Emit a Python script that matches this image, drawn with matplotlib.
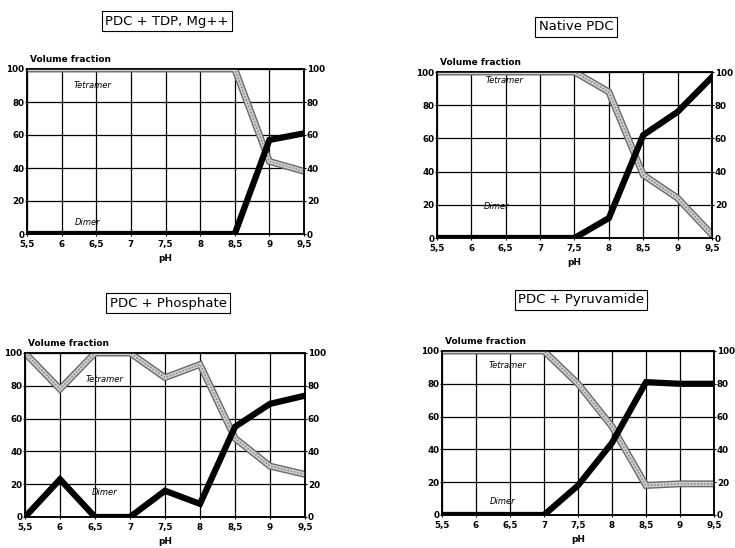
import matplotlib.pyplot as plt
import matplotlib.patheffects as pe

ph = [5.5, 6, 6.5, 7, 7.5, 8, 8.5, 9, 9.5]
ph_labels = ['5,5', '6', '6,5', '7', '7,5', '8', '8,5', '9', '9,5']

titles = ['PDC + TDP, Mg++', 'Native PDC', 'PDC + Phosphate', 'PDC + Pyruvamide']

tetramer_tdp = [100, 100, 100, 100, 100, 100, 100, 44, 38]
dimer_tdp = [0, 0, 0, 0, 0, 0, 0, 57, 61]

tetramer_native = [100, 100, 100, 100, 100, 88, 38, 24, 2]
dimer_native = [0, 0, 0, 0, 0, 12, 62, 76, 97]

tetramer_phos = [100, 78, 100, 100, 85, 93, 48, 31, 26]
dimer_phos = [0, 23, 0, 0, 16, 8, 55, 69, 74]

tetramer_pyr = [100, 100, 100, 100, 80, 54, 18, 19, 19]
dimer_pyr = [0, 0, 0, 0, 18, 44, 81, 80, 80]

tetramers = [tetramer_tdp, tetramer_native, tetramer_phos, tetramer_pyr]
dimers = [dimer_tdp, dimer_native, dimer_phos, dimer_pyr]

# axes boxes in pixels: left, right, top, bottom
boxes = [(27, 304, 69, 234), (437, 712, 72, 238), (25, 305, 353, 517), (442, 714, 351, 515)]
title_pos = [(167, 21), (576, 27), (168, 303), (581, 300)]
tet_lbl = [(6.45, 90), (6.48, 95), (6.63, 84), (6.47, 91)]
dim_lbl = [(6.37, 7), (6.37, 19), (6.63, 15), (6.39, 8)]

W, H = 735, 548
fig = plt.figure(figsize=(7.35, 5.48), dpi=100)

for i in range(4):
    l, r, t, b = boxes[i]
    ax = fig.add_axes([l / W, 1 - b / H, (r - l) / W, (b - t) / H])
    ax.plot(ph, tetramers[i], color='#d0d0d0', lw=3, solid_joinstyle='miter',
            path_effects=[pe.Stroke(linewidth=5, foreground='#6a6a6a'), pe.Normal()], zorder=3)
    ax.plot(ph, tetramers[i], color='#8a8a8a', lw=1.2, ls=(0, (1, 1)), zorder=4)
    ax.plot(ph, dimers[i], color='black', lw=4.5, solid_joinstyle='miter', zorder=5)
    ax.set_xlim(5.5, 9.5)
    ax.set_ylim(0, 100)
    ax.set_xticks(ph)
    ax.set_xticklabels(ph_labels)
    ax.set_yticks(range(0, 101, 20))
    ax.grid(True, color='black', lw=0.9)
    ax.tick_params(axis='y', labelsize=6.3, length=1.5, pad=0.5)
    ax.tick_params(axis='x', labelsize=6.3, length=1.5, pad=2.5)
    for lab in ax.get_xticklabels() + ax.get_yticklabels():
        lab.set_fontweight('bold')
    ax2 = ax.twinx()
    ax2.set_ylim(0, 100)
    ax2.set_yticks(range(0, 101, 20))
    ax2.tick_params(labelsize=6.3, length=1.5, pad=0.5)
    for lab in ax2.get_yticklabels():
        lab.set_fontweight('bold')
    for sp in list(ax.spines.values()) + list(ax2.spines.values()):
        sp.set_linewidth(1.1)
    ax.set_xlabel('pH', fontsize=6.5, fontweight='bold', labelpad=4)
    ax.text(0.01, 1.03, 'Volume fraction', transform=ax.transAxes, fontsize=6.5,
            fontweight='bold', ha='left', va='bottom')
    ax.text(tet_lbl[i][0], tet_lbl[i][1], 'Tetramer', fontsize=6, style='italic',
            ha='center', va='center', zorder=6)
    ax.text(dim_lbl[i][0], dim_lbl[i][1], 'Dimer', fontsize=6, style='italic',
            ha='center', va='center', zorder=6)
    tx, ty = title_pos[i]
    fig.text(tx / W, 1 - ty / H, titles[i], fontsize=9.5, ha='center', va='center',
             bbox=dict(boxstyle='square,pad=0.25', fc='white', ec='black', lw=0.8))

fig.savefig('out.png', dpi=100)
